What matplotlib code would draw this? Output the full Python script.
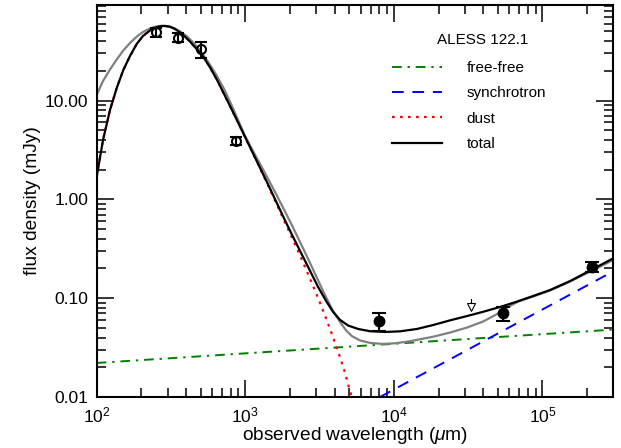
import matplotlib
matplotlib.use("Agg")
import matplotlib.pyplot as plt
from matplotlib.ticker import LogLocator, FormatStrFormatter, LogFormatterSciNotation, NullFormatter

plt.rcParams['font.family'] = ['Liberation Sans', 'DejaVu Sans']
plt.rcParams['mathtext.fontset'] = 'custom'
plt.rcParams['mathtext.rm'] = 'Liberation Sans'
plt.rcParams['mathtext.it'] = 'Liberation Sans:italic'

# ---- data (wavelength in micron, flux density in mJy) ----
obs_open_wl = [250, 350, 500, 870]
obs_open_flux = [49.1, 43.4, 33.0, 3.93]
obs_open_err = [4.7, 4.6, 6.0, 0.35]

obs_fill_wl = [7900, 54500, 214000]
obs_fill_flux = [0.0587, 0.0703, 0.209]
obs_fill_err = [0.012, 0.011, 0.023]

uplim_wl = [33300]
uplim_flux = [0.098]

ff_wl = [100, 300000]
ff_flux = [0.0221, 0.0481]

sync_wl = [8070, 300000]
sync_flux = [0.01, 0.187]

total_wl = [100, 110.3, 122.9, 136.4, 151.1, 167.6, 186.0, 205.0, 228.5, 247.0, 266.9, 288.4,
            311.6, 336.8, 363.9, 393.3, 424.9, 473.7, 522.2, 579.4, 645.8, 719.7, 802.3, 894.3,
            997.0, 1111, 1258, 1424, 1612, 1825, 2067, 2339, 2732, 3092, 3500, 3902, 4349,
            4923, 5750, 6925, 8738, 11030, 14290, 18390, 23940, 31160, 40120, 51980, 67330,
            86700, 112800, 153900, 209900, 300000]
total_flux = [1.698, 3.99, 8.03, 13.41, 20.40, 28.28, 37.40, 45.07, 51.24, 54.55, 56.49, 56.90,
              55.85, 53.05, 48.91, 44.24, 39.46, 32.90, 27.63, 21.63, 16.16, 11.66, 8.38, 6.00,
              4.28, 3.053, 2.078, 1.415, 0.952, 0.641, 0.436, 0.3003, 0.1885, 0.1299, 0.0937,
              0.0725, 0.0602, 0.0529, 0.0488, 0.0463, 0.0455, 0.0462, 0.0488, 0.0535, 0.0597,
              0.0660, 0.0730, 0.0816, 0.0922, 0.1053, 0.1211, 0.1493, 0.1907, 0.2534]

dust_wl = [100, 110.3, 122.9, 136.4, 151.1, 167.6, 186.0, 205.0, 228.5, 247.0, 266.9, 288.4,
           311.6, 336.8, 363.9, 393.3, 424.9, 473.7, 522.2, 579.4, 645.8, 719.7, 802.3, 894.3,
           997.0, 1111, 1258, 1424, 1612, 1825, 2067, 2339, 2732, 3092, 3500, 3902, 4349,
           4699, 5000, 5238]
dust_flux = [1.698, 3.99, 8.03, 13.41, 20.40, 28.28, 37.40, 45.07, 51.24, 54.55, 56.49, 56.90,
             55.85, 53.05, 48.91, 44.24, 39.46, 32.90, 27.63, 21.63, 16.16, 11.66, 8.38, 6.00,
             4.27, 3.04, 2.06, 1.383, 0.9196, 0.6115, 0.4067, 0.2705, 0.1564, 0.1005, 0.0623,
             0.0400, 0.0251, 0.01749, 0.01234, 0.00977]

gray_wl = [100, 110.3, 122.9, 136.4, 151.1, 167.6, 186.0, 205.0, 228.5, 250.8, 275.3, 302.1,
           331.6, 363.9, 405.7, 452.2, 504.0, 561.7, 636.1, 719.7, 802.3, 894.3, 997.0, 1111,
           1258, 1424, 1612, 1825, 2067, 2339, 2648, 2999, 3394, 3842, 4349, 4774, 5238, 5931,
           6925, 8342, 10200, 12880, 18390, 23940, 31160, 39930, 49620, 58860, 68710, 86700,
           112800, 153900, 209900, 300000]
gray_flux = [11.40, 15.79, 20.64, 26.06, 32.15, 38.28, 44.36, 49.46, 53.68, 56.10, 57.16, 56.49,
             53.93, 50.06, 44.57, 38.02, 31.04, 24.70, 18.37, 13.11, 9.24, 6.36, 4.38, 3.215,
             2.277, 1.613, 1.131, 0.7866, 0.5418, 0.3695, 0.2498, 0.1674, 0.1121, 0.0772,
             0.0573, 0.0471, 0.0412, 0.0373, 0.03528, 0.03447, 0.03496, 0.03670, 0.04076,
             0.04495, 0.05050, 0.05810, 0.06920, 0.08143, 0.09261, 0.1040, 0.1197, 0.1476,
             0.1863, 0.2435]

source_name = 'ALESS 122.1'

fig = plt.figure(figsize=(6.21, 4.48), dpi=100)
ax = fig.add_axes([96.7/621, 1-397/448, (613.3-96.7)/621, (397-4.7)/448])

ax.plot(ff_wl, ff_flux, color='green', ls=(0, (5, 3, 1.2, 3)), lw=1.4, label='free-free')
ax.plot(sync_wl, sync_flux, color='blue', ls=(0, (6, 4.5)), lw=1.4, label='synchrotron')
ax.plot(dust_wl, dust_flux, color='red', ls=(0, (1.2, 2.4)), lw=1.6, label='dust')
ax.plot(gray_wl, gray_flux, color='gray', lw=1.6)
ax.plot(total_wl, total_flux, color='black', lw=1.6, label='total')

ax.errorbar(obs_open_wl, obs_open_flux, yerr=obs_open_err, fmt='o', mfc='none', mec='black',
            mew=1.5, ms=6.5, color='black', ecolor='black', elinewidth=1.5, capsize=4.5, capthick=1.5)
ax.errorbar(obs_fill_wl, obs_fill_flux, yerr=obs_fill_err, fmt='o', mfc='black', mec='black',
            ms=7.5, color='black', ecolor='black', elinewidth=1.5, capsize=5, capthick=1.5)
# upper limit
for w, f in zip(uplim_wl, uplim_flux):
    ax.plot([w, w], [f, f*0.89], color='black', lw=0.8)
    ax.plot([w], [f*0.83], marker='v', ms=5.5, mfc='white', mec='black', mew=0.8)

ax.set_xscale('log')
ax.set_yscale('log')
ax.set_xlim(100, 3e5)
ax.set_ylim(0.01, 10**1.97)

ax.xaxis.set_major_locator(LogLocator(base=10, numticks=10))
ax.xaxis.set_minor_locator(LogLocator(base=10, subs=range(2, 10), numticks=20))
ax.xaxis.set_major_formatter(LogFormatterSciNotation())
ax.xaxis.set_minor_formatter(NullFormatter())
ax.yaxis.set_major_locator(LogLocator(base=10, numticks=10))
ax.yaxis.set_minor_locator(LogLocator(base=10, subs=range(2, 10), numticks=20))
ax.yaxis.set_major_formatter(FormatStrFormatter('%.2f'))
ax.yaxis.set_minor_formatter(NullFormatter())

ax.tick_params(which='both', direction='in', top=True, right=True, labelsize=12.5, width=1.1)
ax.tick_params(which='major', length=12, pad=6)
ax.tick_params(which='minor', length=6.5)
for s in ax.spines.values():
    s.set_linewidth(1.5)

ax.set_xlabel(r'observed wavelength ($\mu$m)', fontsize=13.8, labelpad=0)
ax.set_ylabel('flux density (mJy)', fontsize=13.8, labelpad=3)

ax.text(0.747, 0.909, source_name, transform=ax.transAxes, ha='center', va='center', fontsize=11)
leg = ax.legend(loc='upper left', bbox_to_anchor=(0.545, 0.8915), frameon=False, fontsize=11,
                handlelength=3.3, handletextpad=1.6, labelspacing=0.74)

fig.savefig('out.png', dpi=100)
